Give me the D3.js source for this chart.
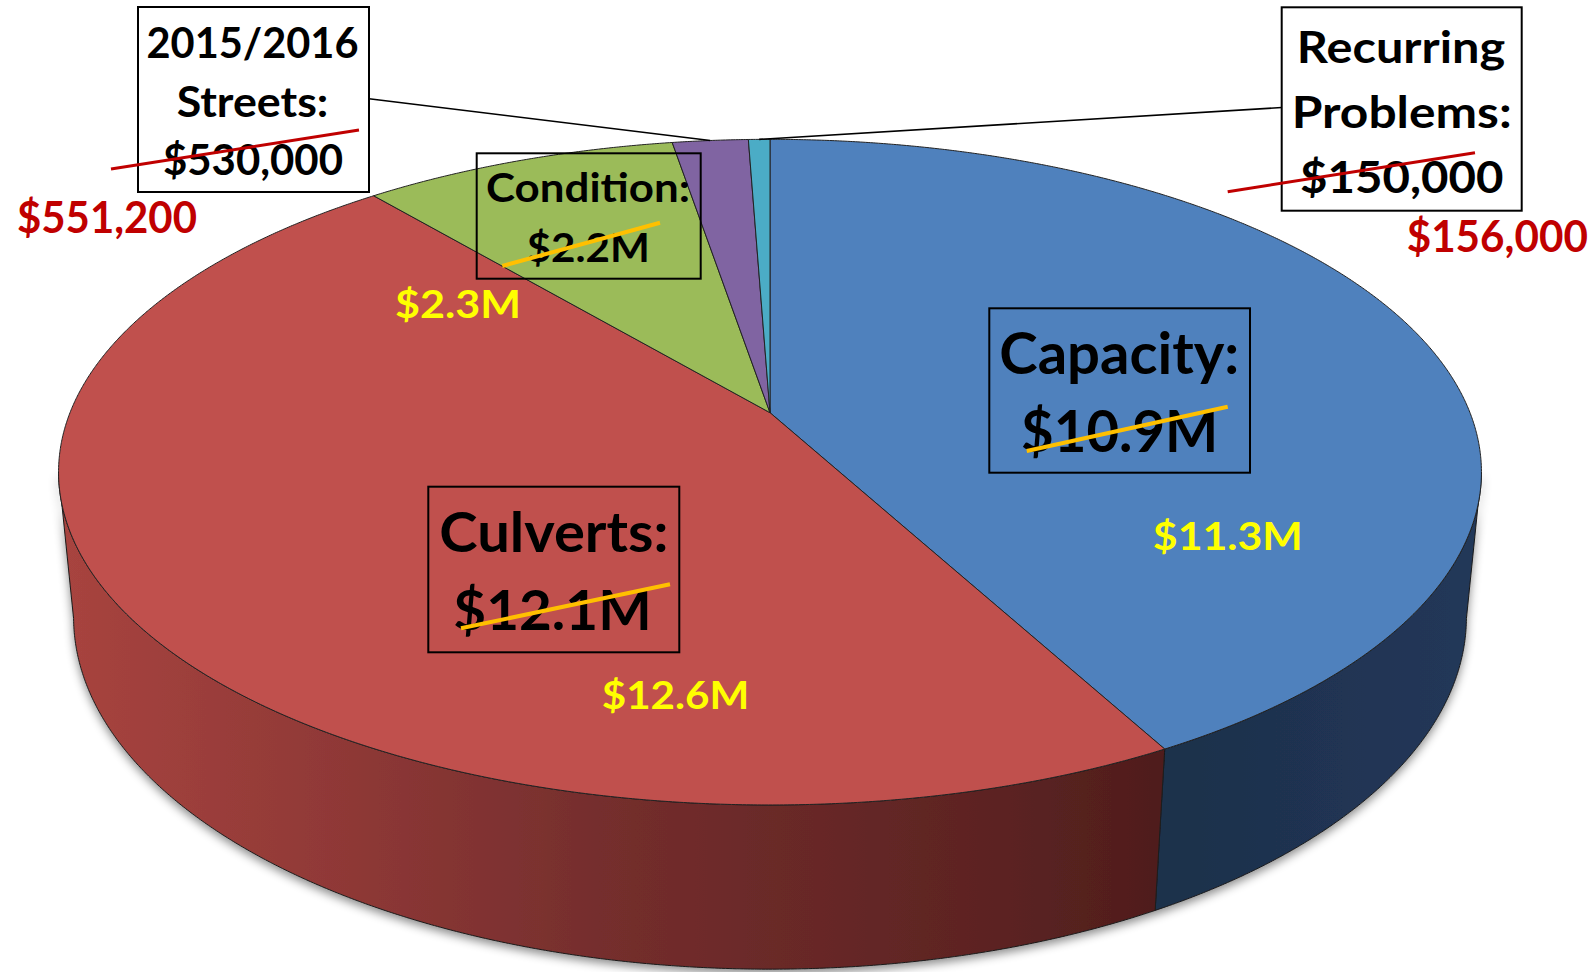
<!DOCTYPE html>
<html><head><meta charset="utf-8">
<script src="https://cdn.jsdelivr.net/npm/d3@7"></script>
<style>html,body{margin:0;padding:0;background:#fff;overflow:hidden}</style>
</head><body>
<svg id="chart" width="1596" height="972"></svg>
<script>
// ---------- data ----------
const categories = ["Capacity", "Culverts", "Condition", "2015/2016 Streets", "Recurring Problems"];
const originalValues = [10.9, 12.1, 2.2, 0.53, 0.15];      // $M (struck through)
const updatedValues  = [11.3, 12.6, 2.3, 0.5512, 0.156];   // $M (revised)
const titleLines = [["Capacity:"], ["Culverts:"], ["Condition:"], ["2015/2016", "Streets:"], ["Recurring", "Problems:"]];
const originalLabels = ["$10.9M", "$12.1M", "$2.2M", "$530,000", "$150,000"];
const updatedLabels  = ["$11.3M", "$12.6M", "$2.3M", "$551,200", "$156,000"];

// ---------- styles / layout ----------
const topColors = ["#4f81bd", "#c0504d", "#9bbb59", "#8064a2", "#4bacc6"];
const FONT = "Lato, 'Open Sans', sans-serif";
const P = {cx: 770, cy: 412.7, a: 700, d: 322.2, c: -0.1786, k0: 0.02045, vy: 7400};

const layout = [
  {box:[989.3,308.3,1250,472.7], fill:"none",
   lines:[[1119.3,373.7,56.7,240],[1119.7,451.7,56.7,197.3]],
   strike:[1026.7,451,1227.7,406.7], sc:"#ffc000", sw:4,
   upd:[1227.8,550,38.6,150], uc:"#ffff00"},
  {box:[428.3,486.7,679.3,652.3], fill:"none",
   lines:[[553.8,551.7,56,229],[552.5,630,56,198.3]],
   strike:[461,628.3,670,584.3], sc:"#ffc000", sw:4,
   upd:[675.5,709.3,38.6,147.6], uc:"#ffff00"},
  {box:[476.7,153.3,700.7,278.7], fill:"none",
   lines:[[588,201.7,39.5,204],[588.3,261.7,39.5,123.3]],
   strike:[502.3,266,660,222.7], sc:"#ffc000", sw:4,
   upd:[458,318,38,126], uc:"#ffff00"},
  {box:[138,7,369,192], fill:"#fff",
   lines:[[252.5,58.3,42,212],[252.5,116.7,42,151.7],[253,175,42,180]],
   strike:[111,169,359,130], sc:"#c00000", sw:3,
   upd:[107,232.7,43,180], uc:"#c00000", leader:[369,98.7]},
  {box:[1281.7,7.3,1521.7,210.7], fill:"#fff",
   lines:[[1401,63.3,44,208.3],[1401.7,128.3,44,220],[1401.7,193.3,44,203.3]],
   strike:[1227.7,191.7,1475,152.7], sc:"#c00000", sw:3,
   upd:[1497.3,251.7,43,181.3], uc:"#c00000", leader:[1281.7,107.5]}
];

// ---------- projection of the tilted disc ----------
function topPt(phi){
  const u = Math.sin(phi), v = -Math.cos(phi), w = 1 + P.c*v;
  return [P.cx + P.a*u/w, P.cy + P.d*v/w];
}
function botPt(phi){
  const [x,y] = topPt(phi);
  const v = -Math.cos(phi), w = 1 + P.c*v, k = P.k0/w;
  return [P.cx + (x-P.cx)*(1-k), y + k*(P.vy - y)];
}
function arcPts(f, a0, a1){
  const n = Math.max(2, Math.ceil(Math.abs(a1-a0)/(Math.PI/720)));
  return d3.range(n+1).map(i => f(a0 + (a1-a0)*i/n));
}

const svg = d3.select("#chart");
const defs = svg.append("defs");
const sh = defs.append("filter").attr("id","shadow").attr("x","-10%").attr("y","-10%").attr("width","120%").attr("height","130%");
sh.append("feDropShadow").attr("dx",0).attr("dy",4).attr("stdDeviation",5).attr("flood-color","#000").attr("flood-opacity",0.45);

const rg = defs.append("linearGradient").attr("id","redSide").attr("gradientUnits","userSpaceOnUse")
  .attr("x1",60).attr("x2",1230).attr("y1",0).attr("y2",0);
[[0,"#a8443f"],[0.25,"#8e3836"],[0.46,"#752e2d"],[0.8,"#5c2322"],[1,"#4a1b1a"]].forEach(s=>
  rg.append("stop").attr("offset",s[0]).attr("stop-color",s[1]));
const bg = defs.append("linearGradient").attr("id","blueSide").attr("gradientUnits","userSpaceOnUse")
  .attr("x1",1200).attr("x2",1490).attr("y1",0).attr("y2",0);
[[0,"#1e304c"],[1,"#22385a"]].forEach(s=>bg.append("stop").attr("offset",s[0]).attr("stop-color",s[1]));
const sideFills = ["url(#blueSide)","url(#redSide)","#6f8a3e","#5a4678","#317a8e"];

const pie = d3.pie().sort(null).value(d => d)(originalValues);
const line = d3.line();

const phiR = Math.acos(P.c), phiL = 2*Math.PI - Math.acos(P.c);

// sides
const gSide = svg.append("g").attr("filter","url(#shadow)");
pie.forEach((s,i)=>{
  const a0 = Math.max(s.startAngle, phiR), a1 = Math.min(s.endAngle, phiL);
  if (a0 >= a1) return;
  const pts = arcPts(topPt, a0, a1).concat(arcPts(botPt, a1, a0));
  gSide.append("path").attr("d", line(pts) + "Z")
    .attr("fill", sideFills[i]).attr("stroke","#1a1a1a").attr("stroke-width",1).attr("stroke-linejoin","round");
});

// top faces
const gTop = svg.append("g");
pie.forEach((s,i)=>{
  const pts = [[P.cx,P.cy]].concat(arcPts(topPt, s.startAngle, s.endAngle));
  gTop.append("path").attr("d", line(pts) + "Z")
    .attr("fill", topColors[i]).attr("stroke","#222").attr("stroke-width",1).attr("stroke-linejoin","round");
});

// annotations
const gA = svg.append("g");
function txt(str, spec, color){
  gA.append("text").attr("x",spec[0]).attr("y",spec[1]).attr("text-anchor","middle")
    .attr("font-family",FONT).attr("font-weight",700).attr("font-size",spec[2])
    .attr("textLength",spec[3]).attr("lengthAdjust","spacingAndGlyphs")
    .attr("fill",color).text(str);
}
layout.forEach((L,i)=>{
  const s = pie[i];
  if (L.leader){
    const p = topPt((s.startAngle+s.endAngle)/2);
    gA.append("line").attr("x1",L.leader[0]).attr("y1",L.leader[1]).attr("x2",p[0]).attr("y2",p[1])
      .attr("stroke","#000").attr("stroke-width",1.6);
  }
  const [x0,y0,x1,y1] = L.box;
  gA.append("rect").attr("x",x0).attr("y",y0).attr("width",x1-x0).attr("height",y1-y0)
    .attr("fill",L.fill).attr("stroke","#000").attr("stroke-width",2);
  const lines = titleLines[i].concat([originalLabels[i]]);
  lines.forEach((t,j)=> txt(t, L.lines[j], "#000"));
  gA.append("line").attr("x1",L.strike[0]).attr("y1",L.strike[1]).attr("x2",L.strike[2]).attr("y2",L.strike[3])
    .attr("stroke",L.sc).attr("stroke-width",L.sw);
  txt(updatedLabels[i], L.upd, L.uc);
});
</script>
</body></html>
